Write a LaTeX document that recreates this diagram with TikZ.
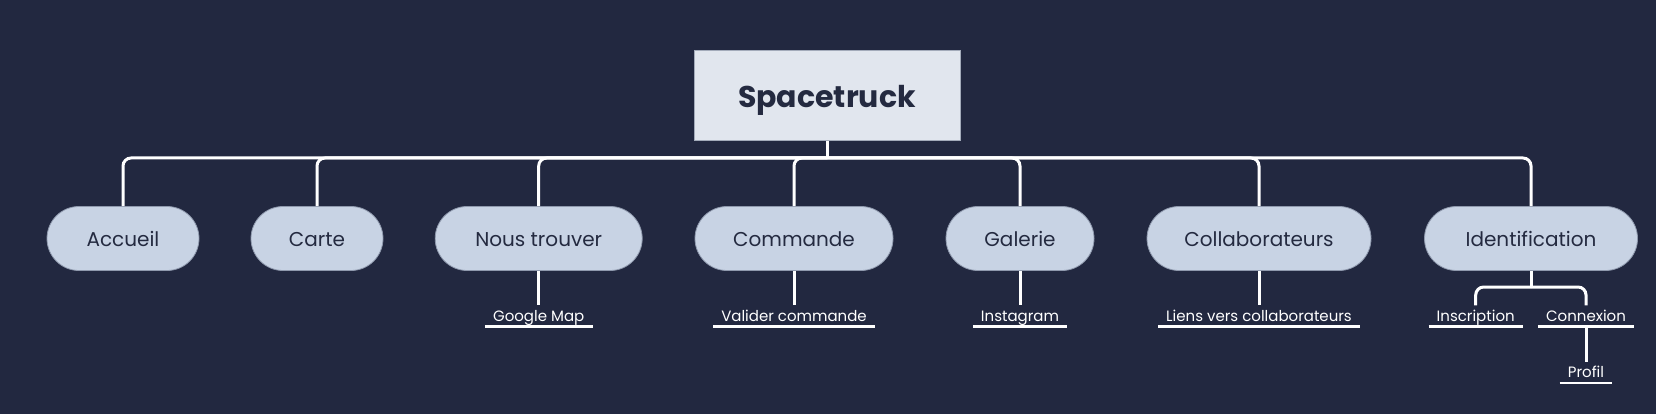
\documentclass[tikz,border=0pt]{standalone}
\usepackage{fontspec}
\setmainfont{Poppins}
\usetikzlibrary{calc}

\definecolor{bgnavy}{HTML}{222840}
\definecolor{rootfill}{HTML}{E1E6EE}
\definecolor{rootline}{HTML}{A3ABBA}
\definecolor{pagefill}{HTML}{C8D3E4}
\definecolor{pageline}{HTML}{8F99AD}
\definecolor{inkdark}{HTML}{242A40}

\begin{document}
\begin{tikzpicture}[x=1pt, y=-1pt,
    root/.style={rectangle, draw=rootline, line width=1pt, fill=rootfill, minimum width=266pt, minimum height=90pt, text height=25pt, text depth=0pt, font=\fontsize{30}{36}\selectfont\bfseries, text=inkdark},
    page/.style={rectangle, rounded corners=32pt, draw=pageline, line width=0.8pt, fill=pagefill, minimum height=64pt, text height=16pt, text depth=0pt, font=\fontsize{20}{24}\selectfont, text=inkdark},
    leaf/.style={inner xsep=8pt, inner ysep=4pt, text height=12pt, text depth=1pt, font=\fontsize{15}{18}\selectfont, text=white},
    link/.style={draw=white, line width=3pt, rounded corners=8pt},
    uline/.style={draw=white, line width=2.5pt}
  ]
      \fill[bgnavy] (0,0) rectangle (1656,414);
      \useasboundingbox (0,0) rectangle (1656,414);

      % root
      \node[root] (root) at (827, 95.5) {Spacetruck};
      \coordinate (bus) at (827, 158);

      % pages
      \node[page, minimum width=152pt] (acc) at (123, 238.5) {Accueil};
      \node[page, minimum width=132pt] (carte) at (317, 238.5) {Carte};
      \node[page, minimum width=207pt] (nous) at (538.7, 238.5) {Nous trouver};
      \node[page, minimum width=198pt] (cmd) at (794, 238.5) {Commande};
      \node[page, minimum width=148pt] (gal) at (1020, 238.5) {Galerie};
      \node[page, minimum width=224pt] (collab) at (1259, 238.5) {Collaborateurs};
      \node[page, minimum width=213pt] (ident) at (1531, 238.5) {Identification};

      % sub pages
      \node[leaf] (gmap) at (538.7, 316) {Google Map};
      \node[leaf] (valid) at (794, 316) {Valider commande};
      \node[leaf] (insta) at (1020, 316) {Instagram};
      \node[leaf] (liens) at (1259, 316) {Liens vers collaborateurs};
      \node[leaf] (insc) at (1475.7, 316) {Inscription};
      \node[leaf] (conn) at (1586, 316) {Connexion};
      \node[leaf] (profil) at (1586, 372.3) {Profil};
      \coordinate (idbus) at (1531, 287);

      \foreach \l in {gmap, valid, insta, liens, insc, conn, profil}
        \draw[uline] (\l.south west) -- (\l.south east);

      \draw[link] (root.south) -- (bus);
      \foreach \p in {acc, carte, nous, cmd, gal, collab, ident}
        \draw[link] (bus) -| (\p.north);

      \draw[link] (nous.south) -- (gmap.north);
      \draw[link] (cmd.south) -- (valid.north);
      \draw[link] (gal.south) -- (insta.north);
      \draw[link] (collab.south) -- (liens.north);
      \draw[link] (ident.south) -- (idbus);
      \draw[link] (idbus) -| (insc.north);
      \draw[link] (idbus) -| (conn.north);
      \draw[link] (conn.south) -- (profil.north);
\end{tikzpicture}
\end{document}
